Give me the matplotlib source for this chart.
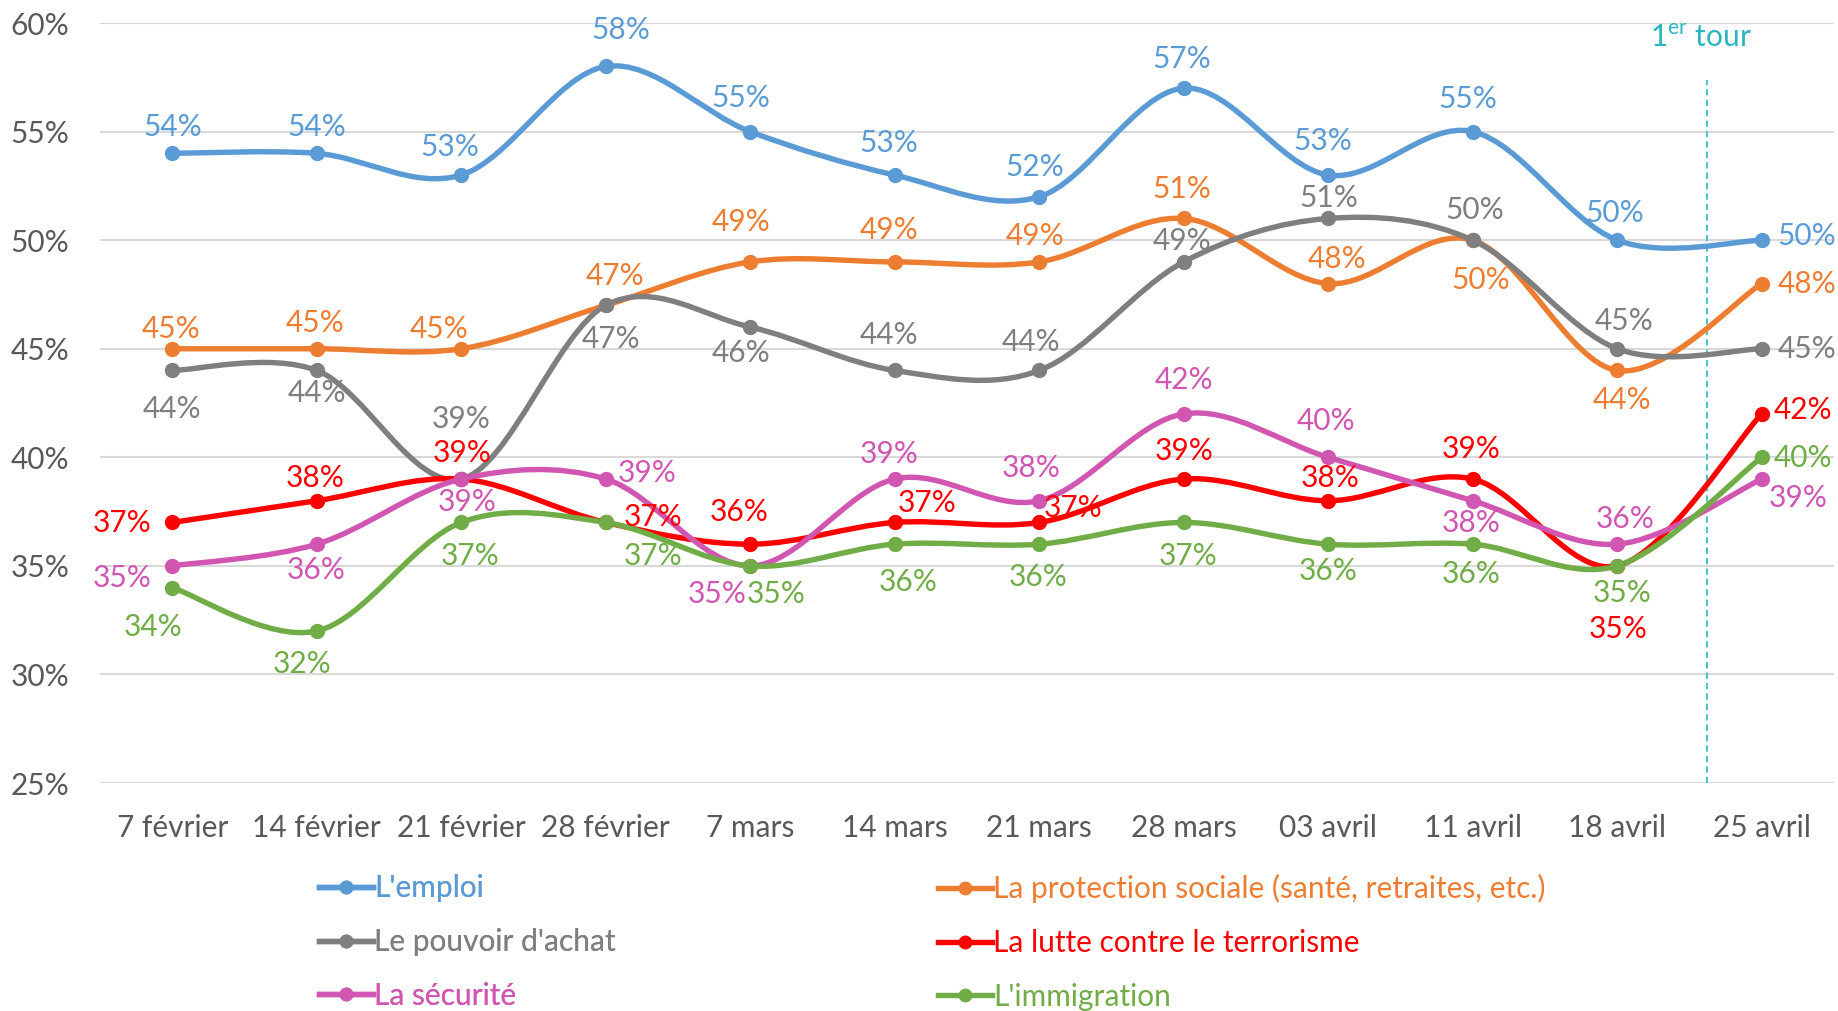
import numpy as np
import matplotlib
matplotlib.use("Agg")
import matplotlib.pyplot as plt
from matplotlib.path import Path
from matplotlib.patches import PathPatch
from matplotlib.lines import Line2D

plt.rcParams["font.family"] = ["Lato", "DejaVu Sans"]

dates = ["7 février", "14 février", "21 février", "28 février", "7 mars", "14 mars",
         "21 mars", "28 mars", "03 avril", "11 avril", "18 avril", "25 avril"]

emploi      = [54, 54, 53, 58, 55, 53, 52, 57, 53, 55, 50, 50]
protection  = [45, 45, 45, 47, 49, 49, 49, 51, 48, 50, 44, 48]
pouvoir     = [44, 44, 39, 47, 46, 44, 44, 49, 51, 50, 45, 45]
terrorisme  = [37, 38, 39, 37, 36, 37, 37, 39, 38, 39, 35, 42]
securite    = [35, 36, 39, 39, 35, 39, 38, 42, 40, 38, 36, 39]
immigration = [34, 32, 37, 37, 35, 36, 36, 37, 36, 36, 35, 40]

names = ["L'emploi", "La protection sociale (santé, retraites, etc.)",
         "Le pouvoir d'achat", "La lutte contre le terrorisme",
         "La sécurité", "L'immigration"]
series = [emploi, protection, pouvoir, terrorisme, securite, immigration]
colors = ["#5B9BD5", "#ED7D31", "#7F7F7F", "#FF0000", "#D156B2", "#70AD47"]

# value label offsets (pixels, x right / y up) per series and point
offsets = [
    [(0, 26), (0, 26), (-11, 28), (15, 36), (-9, 34), (-6, 32), (-4, 30), (-2, 29),
     (-5, 34), (-5, 33), (-2, 27), (45, 4)],
    [(-1, 20), (-2, 26), (-22, 20), (9, 29), (-9, 40), (-6, 32), (-4, 26), (-2, 29),
     (9, 25), (8, -40), (5, -30), (45, 0)],
    [(0, -39), (0, -23), (0, 60), (5, -34), (-9, -26), (-6, 35), (-8, 28), (-2, 21),
     (1, 20), (2, 30), (7, 28), (45, 0)],
    [(-50, -1), (-2, 23), (1, 26), (47, 5), (-11, 32), (32, 19), (34, 14), (0, 28),
     (2, 23), (-2, 30), (1, -63), (41, 4)],
    [(-50, -12), (-1, -26), (6, -23), (41, 6), (-33, -28), (-6, 25), (-8, 33), (0, 34),
     (-2, 36), (-2, -22), (8, 25), (36, -19)],
    [(-19, -39), (-15, -33), (9, -34), (47, -34), (26, -28), (13, -38), (-1, -33), (4, -34),
     (0, -27), (-2, -30), (5, -27), (41, -1)],
]


def smooth_path(xs, ys):
    """Cubic Bezier path through the points (Catmull-Rom style tangents)."""
    p = np.column_stack([xs, ys]).astype(float)
    n = len(p)
    verts = [p[0]]
    codes = [Path.MOVETO]
    for i in range(n - 1):
        p_prev = p[i - 1] if i > 0 else p[i]
        p_next2 = p[i + 2] if i + 2 < n else p[i + 1]
        c1 = p[i] + (p[i + 1] - p_prev) / 6.0
        c2 = p[i + 1] - (p_next2 - p[i]) / 6.0
        verts += [c1, c2, p[i + 1]]
        codes += [Path.CURVE4] * 3
    return Path(verts, codes)


fig = plt.figure(figsize=(18.38, 10.11), dpi=100)
ax = fig.add_axes([0.0544, 0.2255, 0.9434, 0.7517])

x = np.arange(len(dates))
fs = 21.5

for vals, col, offs in zip(series, colors, offsets):
    patch = PathPatch(smooth_path(x, vals), fill=False, edgecolor=col, lw=3.9,
                      capstyle="round", joinstyle="round", zorder=3)
    ax.add_patch(patch)
    ax.plot(x, vals, "o", color=col, markersize=10, zorder=4)
    for xi, v, (dx, dy) in zip(x, vals, offs):
        ax.annotate(f"{v}%", (xi, v), xytext=(dx, dy), textcoords="offset pixels",
                    ha="center", va="center", color=col, fontsize=fs, zorder=5)

# first round marker
tour_x = 10.62
ax.plot([tour_x, tour_x], [25, 57.4], color="#4BC3CC", lw=1.5, ls=(0, (3, 2)), zorder=2)
ax.text(tour_x - 0.04, 59.3, r"1$^{\mathregular{er}}$ tour", color="#2BB5C0",
        fontsize=fs, ha="center", va="center")

ax.set_xlim(-0.5, len(dates) - 0.5)
ax.set_ylim(25, 60)
ax.set_yticks(range(25, 61, 5))
ax.set_yticklabels([f"{v}%" for v in range(25, 61, 5)])
ax.set_xticks(x)
ax.set_xticklabels(dates)
ax.grid(axis="y", color="#D9D9D9", lw=1.5, zorder=0)
ax.set_axisbelow(True)
for s in ax.spines.values():
    s.set_visible(False)
ax.tick_params(axis="both", length=0, colors="#595959", labelsize=fs)
ax.tick_params(axis="x", pad=22)
ax.tick_params(axis="y", pad=22)

handles = [Line2D([], [], color=c, lw=3.9, marker="o", markersize=9) for c in colors]

leg_kw = dict(loc="upper left", frameon=False, fontsize=fs, handlelength=1.8,
              handletextpad=0.05, borderpad=0, borderaxespad=0, labelspacing=0.86,
              labelcolor="linecolor")
leg1 = fig.legend([handles[0], handles[2], handles[4]], [names[0], names[2], names[4]],
                  bbox_to_anchor=(0.1735, 0.1352), **leg_kw)
fig.add_artist(leg1)
fig.legend([handles[1], handles[3], handles[5]], [names[1], names[3], names[5]],
           bbox_to_anchor=(0.5103, 0.1352), **leg_kw)

fig.savefig("out.png", dpi=100)
